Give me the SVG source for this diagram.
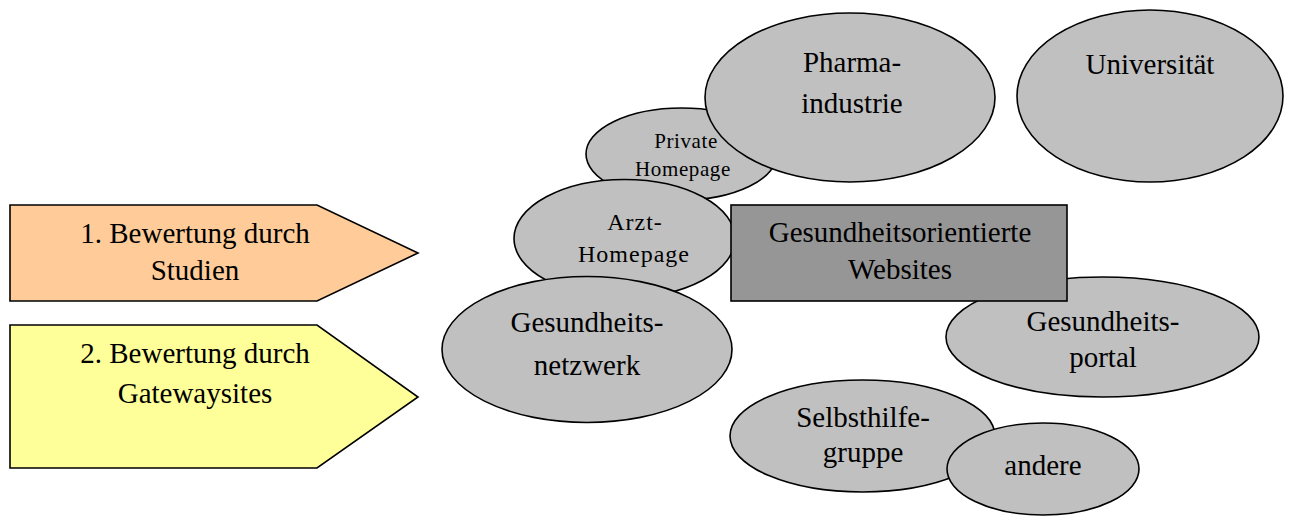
<svg xmlns="http://www.w3.org/2000/svg" width="1289" height="516" viewBox="0 0 1289 516">
<style>
.el{fill:#C0C0C0;stroke:#000;stroke-width:1.6}
.t{font-family:"Liberation Serif","Times New Roman",serif;font-size:29px;fill:#000;text-anchor:middle}
.s{font-size:21px;letter-spacing:0.6px}
.m{font-size:24px;letter-spacing:1px}
</style>
<rect width="1289" height="516" fill="#fff"/>
<g id="arrow1">
<polygon points="10,205 317,205 418,253 317,301 10,301" fill="#FFCC99" stroke="#000" stroke-width="1.6"/>
<text class="t" x="195" y="243">1. Bewertung durch</text>
<text class="t" x="195" y="280">Studien</text>
</g>
<g id="arrow2">
<polygon points="10,325 317,325 418,397 317,468 10,468" fill="#FFFF99" stroke="#000" stroke-width="1.6"/>
<text class="t" x="195" y="363">2. Bewertung durch</text>
<text class="t" x="195" y="403">Gatewaysites</text>
</g>
<g id="private">
<ellipse class="el" cx="681.5" cy="154" rx="95.5" ry="46"/>
<text class="t s" x="686" y="148">Private</text>
<text class="t s" x="683" y="176">Homepage</text>
</g>
<g id="pharma">
<ellipse class="el" cx="850" cy="97.5" rx="145" ry="84.5"/>
<text class="t" x="852" y="72">Pharma-</text>
<text class="t" x="852" y="113">industrie</text>
</g>
<g id="universitaet">
<ellipse class="el" cx="1150" cy="96" rx="133" ry="86"/>
<text class="t" x="1150" y="74">Universität</text>
</g>
<g id="arzt">
<ellipse class="el" cx="624.5" cy="238.5" rx="110.5" ry="59"/>
<text class="t m" x="635" y="230">Arzt-</text>
<text class="t m" x="634" y="262">Homepage</text>
</g>
<g id="netzwerk">
<ellipse class="el" cx="587" cy="349.5" rx="145" ry="73"/>
<text class="t" x="587" y="332">Gesundheits-</text>
<text class="t" x="587" y="375">netzwerk</text>
</g>
<g id="portal">
<ellipse class="el" cx="1102.5" cy="337" rx="156.5" ry="60"/>
<text class="t" x="1103" y="331">Gesundheits-</text>
<text class="t" x="1103" y="367">portal</text>
</g>
<g id="center">
<rect x="731" y="205" width="336" height="96" fill="#969696" stroke="#000" stroke-width="1.6"/>
<text class="t" x="900" y="242">Gesundheitsorientierte</text>
<text class="t" x="900" y="279">Websites</text>
</g>
<g id="selbsthilfe">
<ellipse class="el" cx="862.5" cy="436" rx="132.5" ry="56"/>
<text class="t" x="863" y="427">Selbsthilfe-</text>
<text class="t" x="863" y="462">gruppe</text>
</g>
<g id="andere">
<ellipse class="el" cx="1043" cy="469" rx="96" ry="46"/>
<text class="t" x="1043" y="475">andere</text>
</g>
<g id="connectors"></g>
</svg>
